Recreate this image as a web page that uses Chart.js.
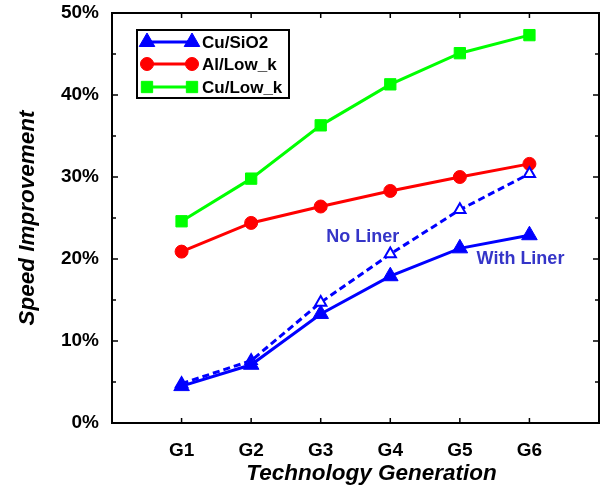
<!DOCTYPE html>
<html>
<head>
<meta charset="utf-8">
<script src="https://cdn.jsdelivr.net/npm/chart.js@4.4.0/dist/chart.umd.min.js"></script>
<style>
html, body { margin: 0; padding: 0; background: #fff; }
</style>
</head>
<body>
<canvas id="chart" width="605" height="493"></canvas>
<script>
// values, in percent
const categories = ['G1', 'G2', 'G3', 'G4', 'G5', 'G6'];
const cuSio2WithLiner = [4.5, 7.1, 13.3, 17.9, 21.3, 22.9];
const cuSio2NoLiner = [4.8, 7.6, 14.7, 20.6, 26.0, 30.4];
const alLowK = [20.9, 24.4, 26.4, 28.3, 30.0, 31.6];
const cuLowK = [24.6, 29.8, 36.3, 41.3, 45.1, 47.3];
const yTicks = [0, 10, 20, 30, 40, 50];
const yMinorTicks = [5, 15, 25, 35, 45];

const FONT = '"Liberation Sans", Arial, Helvetica, sans-serif';
Chart.defaults.font.family = FONT;
Chart.defaults.font.weight = 'bold';
Chart.defaults.color = '#000';

function toPoints(vals) {
    return vals.map((v, i) => ({ x: i + 1, y: v }));
}

const BLUE = '#0000ff';
const RED = '#ff0000';
const GREEN = '#00ff00';

const datasets = [
    {
        label: 'Cu/SiO2', data: toPoints(cuSio2WithLiner), inLegend: true,
        borderColor: BLUE, backgroundColor: BLUE, borderWidth: 3,
        pointStyle: 'triangle', pointRadius: 9, pointBackgroundColor: BLUE, pointBorderColor: BLUE, pointBorderWidth: 1
    },
    {
        label: 'Cu/SiO2 (no liner)', data: toPoints(cuSio2NoLiner), inLegend: false,
        borderColor: BLUE, backgroundColor: '#fff', borderWidth: 3, borderDash: [7, 4],
        pointStyle: 'triangle', pointRadius: 6.5, pointBackgroundColor: '#fff', pointBorderColor: BLUE, pointBorderWidth: 2
    },
    {
        label: 'Al/Low_k', data: toPoints(alLowK), inLegend: true,
        borderColor: RED, backgroundColor: RED, borderWidth: 3,
        pointStyle: 'circle', pointRadius: 6.5, pointBackgroundColor: RED, pointBorderColor: RED, pointBorderWidth: 1
    },
    {
        label: 'Cu/Low_k', data: toPoints(cuLowK), inLegend: true,
        borderColor: GREEN, backgroundColor: GREEN, borderWidth: 3,
        pointStyle: 'rect', pointRadius: 8, pointBackgroundColor: GREEN, pointBorderColor: GREEN, pointBorderWidth: 1
    }
];

// frame, inward ticks, legend box, notes and axis titles
const decorPlugin = {
    id: 'decor',
    afterDraw(chart) {
        const ctx = chart.ctx;
        const a = chart.chartArea;
        const xs = chart.scales.x;
        const ys = chart.scales.y;

        ctx.save();
        ctx.strokeStyle = '#000';
        ctx.lineWidth = 2;
        ctx.strokeRect(a.left, a.top, a.right - a.left, a.bottom - a.top);

        ctx.beginPath();
        yTicks.forEach(v => {
            const y = ys.getPixelForValue(v);
            ctx.moveTo(a.left, y); ctx.lineTo(a.left + 6, y);
            ctx.moveTo(a.right, y); ctx.lineTo(a.right - 6, y);
        });
        yMinorTicks.forEach(v => {
            const y = ys.getPixelForValue(v);
            ctx.moveTo(a.left, y); ctx.lineTo(a.left + 4, y);
            ctx.moveTo(a.right, y); ctx.lineTo(a.right - 4, y);
        });
        categories.forEach((c, i) => {
            const x = xs.getPixelForValue(i + 1);
            ctx.moveTo(x, a.bottom); ctx.lineTo(x, a.bottom - 5);
            ctx.moveTo(x, a.top); ctx.lineTo(x, a.top + 5);
        });
        ctx.lineWidth = 1.5;
        ctx.stroke();

        // legend
        const lx = a.left + 25, ly = a.top + 17;
        ctx.fillStyle = '#fff';
        ctx.fillRect(lx, ly, 152, 68);
        ctx.lineWidth = 2;
        ctx.strokeStyle = '#000';
        ctx.strokeRect(lx, ly, 152, 68);
        const rowY = [12, 34, 57];
        chart.data.datasets.filter(d => d.inLegend).forEach((d, i) => {
            const y = ly + rowY[i];
            ctx.strokeStyle = d.borderColor;
            ctx.lineWidth = 3;
            ctx.beginPath();
            ctx.moveTo(lx + 10, y); ctx.lineTo(lx + 55, y);
            ctx.stroke();
            ctx.fillStyle = d.pointBackgroundColor;
            ctx.strokeStyle = d.pointBorderColor;
            ctx.lineWidth = 1;
            [lx + 10, lx + 55].forEach(px => {
                Chart.helpers.drawPoint(ctx, { pointStyle: d.pointStyle, radius: d.pointRadius, borderWidth: 1, rotation: 0 }, px, y);
            });
            ctx.fillStyle = '#000';
            ctx.font = 'bold 17px ' + FONT;
            ctx.textAlign = 'left';
            ctx.textBaseline = 'middle';
            ctx.fillText(d.label, lx + 65, y + 1);
        });

        // notes on the two Cu/SiO2 curves
        ctx.fillStyle = '#3535c8';
        ctx.font = 'bold 18px ' + FONT;
        ctx.textAlign = 'left';
        ctx.textBaseline = 'alphabetic';
        ctx.fillText('No Liner', xs.getPixelForValue(3.08), ys.getPixelForValue(22.1));
        ctx.fillText('With Liner', xs.getPixelForValue(5.24), ys.getPixelForValue(19.4));

        // axis titles
        ctx.fillStyle = '#000';
        ctx.font = 'italic bold 22.5px ' + FONT;
        ctx.textAlign = 'center';
        ctx.fillText('Technology Generation', (a.left + a.right) / 2 + 16, a.bottom + 57);
        ctx.translate(28, (a.top + a.bottom) / 2);
        ctx.rotate(-Math.PI / 2);
        ctx.textBaseline = 'middle';
        ctx.fillText('Speed Improvement', 0, 0);
        ctx.restore();
    }
};

new Chart(document.getElementById('chart'), {
    type: 'line',
    data: { datasets: datasets },
    options: {
        responsive: false,
        animation: false,
        layout: { autoPadding: false, padding: { top: 13, right: 6, left: 0, bottom: 0 } },
        elements: { line: { tension: 0 } },
        plugins: { legend: { display: false }, tooltip: { enabled: false } },
        scales: {
            x: {
                type: 'linear', min: 0, max: 7,
                grid: { display: false, drawTicks: false },
                border: { display: false },
                afterBuildTicks: s => { s.ticks = categories.map((c, i) => ({ value: i + 1 })); },
                afterFit: s => {
                    s.height = 70;
                    s.paddingLeft = 0; s.paddingRight = 0;
                },
                ticks: {
                    autoSkip: false, maxRotation: 0, padding: 16,
                    font: { size: 19, weight: 'bold' },
                    callback: v => categories[v - 1]
                }
            },
            y: {
                min: 0, max: 50,
                grid: { display: false, drawTicks: false },
                border: { display: false },
                afterBuildTicks: s => { s.ticks = yTicks.map(v => ({ value: v })); },
                afterFit: s => {
                    s.width = 112;
                    s.paddingTop = 0; s.paddingBottom = 0;
                },
                ticks: {
                    padding: 13,
                    font: { size: 19, weight: 'bold' },
                    callback: v => v + '%'
                }
            }
        }
    },
    plugins: [decorPlugin]
});
</script>
</body>
</html>
